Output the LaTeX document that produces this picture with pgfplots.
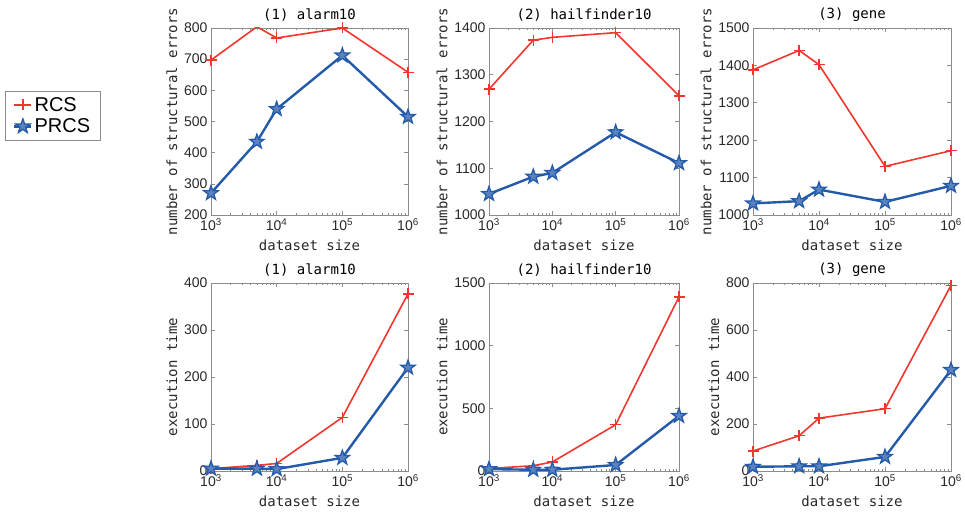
\documentclass[border=0pt]{standalone}
\usepackage{pgfplots}
\pgfplotsset{compat=1.18}
\usepackage{fontspec}
\setmainfont{Liberation Sans}
\newfontfamily\monofont{DejaVu Sans Mono}
\definecolor{cred}{RGB}{240,55,45}
\definecolor{cblue}{RGB}{35,90,170}
\definecolor{axgray}{RGB}{140,140,140}
\definecolor{tickcol}{RGB}{40,40,40}

\pgfdeclareplotmark{pstar}{%
  \pgfpathmoveto{\pgfpointpolar{90}{\pgfplotmarksize}}%
  \pgfpathlineto{\pgfpointpolar{126}{0.40\pgfplotmarksize}}%
  \pgfpathlineto{\pgfpointpolar{162}{\pgfplotmarksize}}%
  \pgfpathlineto{\pgfpointpolar{198}{0.40\pgfplotmarksize}}%
  \pgfpathlineto{\pgfpointpolar{234}{\pgfplotmarksize}}%
  \pgfpathlineto{\pgfpointpolar{270}{0.40\pgfplotmarksize}}%
  \pgfpathlineto{\pgfpointpolar{306}{\pgfplotmarksize}}%
  \pgfpathlineto{\pgfpointpolar{342}{0.40\pgfplotmarksize}}%
  \pgfpathlineto{\pgfpointpolar{18}{\pgfplotmarksize}}%
  \pgfpathlineto{\pgfpointpolar{54}{0.40\pgfplotmarksize}}%
  \pgfpathclose
  \pgfusepathqfillstroke
}

\pgfplotsset{
  scale only axis, height=187pt,
  xmin=1000, xmax=1000000,
  axis line style={axgray, line width=0.8pt},
  every tick/.append style={axgray, line width=0.6pt},
  tick align=inside, major tick length=4pt, minor tick length=2pt,
  tick label style={font=\fontsize{14}{16}\selectfont, text=tickcol},
  title style={font=\monofont\fontsize{14}{16}\selectfont, yshift=-3pt},
  label style={font=\monofont\fontsize{14}{16}\selectfont, text=tickcol},
  xlabel style={yshift=-2pt},
  rcs/.style={cred, line width=1.6pt, mark=+, mark size=5.5pt, mark options={line width=1.5pt}},
  prcs/.style={cblue, line width=2.4pt, mark=pstar, mark size=7.5pt, mark options={fill=cblue!75!white, line width=1.3pt}},
}
\pgfkeys{/pgf/number format/assume math mode=true, /pgf/number format/1000 sep={}}

\begin{document}
\begin{tikzpicture}
\useasboundingbox (0pt,0pt) rectangle (965pt,518pt);

% ---------- top row ----------
\begin{axis}[xmode=log, xtick={1000,10000,100000,1000000},
  xticklabels={10\textsuperscript{3},10\textsuperscript{4},10\textsuperscript{5},10\textsuperscript{6}},
  minor xtick={2000,3000,4000,5000,6000,7000,8000,9000,20000,30000,40000,50000,60000,70000,80000,90000,200000,300000,400000,500000,600000,700000,800000,900000},
  xlabel={dataset size},
  at={(211pt,303pt)}, anchor=south west, width=197pt,
  title={(1) alarm10}, ylabel={number of structural errors},
  ymin=200, ymax=800, ytick={200,300,400,500,600,700,800},
  legend style={at={(-1.046,0.663)}, anchor=north west, draw=axgray,
    font=\fontsize{20}{23}\selectfont, inner xsep=8pt, inner ysep=4pt, row sep=2pt},
  legend cell align=left]
\addplot[rcs] coordinates {(1000,697) (5000,804) (10000,768) (100000,800) (1000000,658)};
\addlegendentry{RCS}
\addplot[prcs] coordinates {(1000,270) (5000,435) (10000,540) (100000,712) (1000000,515)};
\addlegendentry{PRCS}
\end{axis}

\begin{axis}[xmode=log, xtick={1000,10000,100000,1000000},
  xticklabels={10\textsuperscript{3},10\textsuperscript{4},10\textsuperscript{5},10\textsuperscript{6}},
  minor xtick={2000,3000,4000,5000,6000,7000,8000,9000,20000,30000,40000,50000,60000,70000,80000,90000,200000,300000,400000,500000,600000,700000,800000,900000},
  xlabel={dataset size},
  at={(489pt,303pt)}, anchor=south west, width=190pt,
  title={(2) hailfinder10}, ylabel={number of structural errors},
  ymin=1000, ymax=1400, ytick={1000,1100,1200,1300,1400}]
\addplot[rcs] coordinates {(1000,1269) (5000,1374) (10000,1380) (100000,1390) (1000000,1255)};
\addplot[prcs] coordinates {(1000,1045) (5000,1082) (10000,1090) (100000,1177) (1000000,1111)};
\end{axis}

\begin{axis}[xmode=log, xtick={1000,10000,100000,1000000},
  xticklabels={10\textsuperscript{3},10\textsuperscript{4},10\textsuperscript{5},10\textsuperscript{6}},
  minor xtick={2000,3000,4000,5000,6000,7000,8000,9000,20000,30000,40000,50000,60000,70000,80000,90000,200000,300000,400000,500000,600000,700000,800000,900000},
  xlabel={dataset size},
  at={(753pt,303pt)}, anchor=south west, width=198pt,
  title={(3) gene}, ylabel={number of structural errors},
  ymin=1000, ymax=1500, ytick={1000,1100,1200,1300,1400,1500}]
\addplot[rcs] coordinates {(1000,1388) (5000,1440) (10000,1402) (100000,1130) (1000000,1172)};
\addplot[prcs] coordinates {(1000,1031) (5000,1037) (10000,1068) (100000,1035) (1000000,1078)};
\end{axis}

% ---------- bottom row ----------
\begin{axis}[xmode=log, xtick={1000,10000,100000,1000000},
  xticklabels={10\textsuperscript{3},10\textsuperscript{4},10\textsuperscript{5},10\textsuperscript{6}},
  minor xtick={2000,3000,4000,5000,6000,7000,8000,9000,20000,30000,40000,50000,60000,70000,80000,90000,200000,300000,400000,500000,600000,700000,800000,900000},
  xlabel={dataset size},
  at={(211pt,47pt)}, anchor=south west, width=197pt, height=188pt,
  title={(1) alarm10}, ylabel={execution time},
  ymin=0, ymax=400, ytick={0,100,200,300,400}]
\addplot[rcs] coordinates {(1000,5) (5000,12) (10000,16) (100000,114) (1000000,377)};
\addplot[prcs] coordinates {(1000,5) (5000,5) (10000,4) (100000,28) (1000000,220)};
\end{axis}

\begin{axis}[xmode=log, xtick={1000,10000,100000,1000000},
  xticklabels={10\textsuperscript{3},10\textsuperscript{4},10\textsuperscript{5},10\textsuperscript{6}},
  minor xtick={2000,3000,4000,5000,6000,7000,8000,9000,20000,30000,40000,50000,60000,70000,80000,90000,200000,300000,400000,500000,600000,700000,800000,900000},
  xlabel={dataset size},
  at={(489pt,47pt)}, anchor=south west, width=190pt, height=188pt,
  title={(2) hailfinder10}, ylabel={execution time},
  ymin=0, ymax=1500, ytick={0,500,1000,1500}]
\addplot[rcs] coordinates {(1000,20) (5000,42) (10000,72) (100000,369) (1000000,1390)};
\addplot[prcs] coordinates {(1000,15) (5000,10) (10000,10) (100000,48) (1000000,440)};
\end{axis}

\begin{axis}[xmode=log, xtick={1000,10000,100000,1000000},
  xticklabels={10\textsuperscript{3},10\textsuperscript{4},10\textsuperscript{5},10\textsuperscript{6}},
  minor xtick={2000,3000,4000,5000,6000,7000,8000,9000,20000,30000,40000,50000,60000,70000,80000,90000,200000,300000,400000,500000,600000,700000,800000,900000},
  xlabel={dataset size},
  at={(753pt,47pt)}, anchor=south west, width=198pt, height=188pt,
  title={(3) gene}, ylabel={execution time},
  ymin=0, ymax=800, ytick={0,200,400,600,800}]
\addplot[rcs] coordinates {(1000,85) (5000,150) (10000,225) (100000,265) (1000000,790)};
\addplot[prcs] coordinates {(1000,18) (5000,20) (10000,20) (100000,60) (1000000,430)};
\end{axis}
\end{tikzpicture}
\end{document}
